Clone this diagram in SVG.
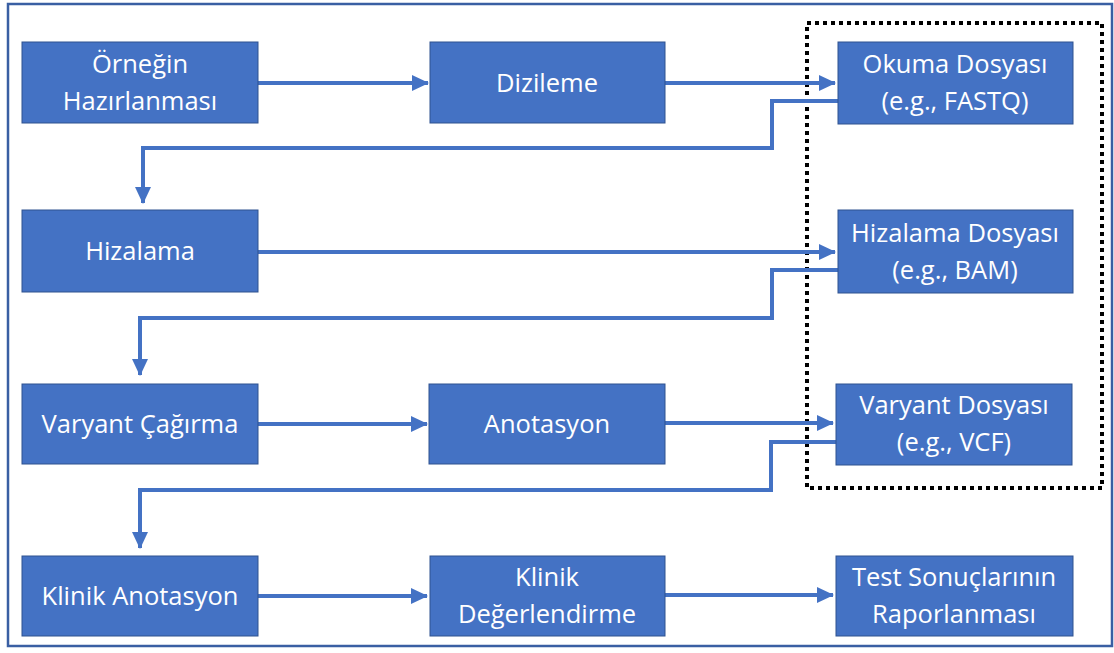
<svg xmlns="http://www.w3.org/2000/svg" width="1114" height="653" viewBox="0 0 1114 653">
<defs>
<style>
.box{fill:#4472C4;stroke:#2F528F;stroke-width:1}
.t{font-family:"Open Sans","Liberation Sans",sans-serif;font-size:25.5px;fill:#ffffff;text-anchor:middle}
.c{fill:none;stroke:#4472C4;stroke-width:4}
.a{marker-end:url(#ah)}
</style>
<marker id="ah" markerUnits="userSpaceOnUse" markerWidth="18" markerHeight="18" refX="16" refY="8" orient="auto">
<path d="M0,0 L17,8 L0,16 z" fill="#4472C4"/>
</marker>
</defs>
<rect x="0" y="0" width="1114" height="653" fill="#ffffff"/>
<rect x="8" y="4" width="1104" height="642" fill="none" stroke="#3A5FA3" stroke-width="2.5"/>
<rect x="807" y="23" width="295" height="465" fill="none" stroke="#000000" stroke-width="4" stroke-dasharray="4 4"/>
<g id="connectors">
<path class="c a" d="M258,83 H428"/>
<path class="c a" d="M665,83 H835"/>
<path class="c a" d="M838,101 H772 V148 H143 V203"/>
<path class="c a" d="M258,252 H835"/>
<path class="c a" d="M838,270 H772 V318 H140 V375"/>
<path class="c a" d="M258,424 H427"/>
<path class="c a" d="M665,423 H833"/>
<path class="c a" d="M836,442 H771 V490 H140 V548"/>
<path class="c a" d="M258,596 H427"/>
<path class="c a" d="M665,595 H833"/>
</g>
<g id="n1"><rect class="box" x="22" y="42" width="236" height="81"/><text class="t" x="140" y="73">Örneğin</text><text class="t" x="140" y="110">Hazırlanması</text></g>
<g id="n2"><rect class="box" x="430" y="42" width="235" height="81"/><text class="t" x="547" y="92">Dizileme</text></g>
<g id="n3"><rect class="box" x="838" y="42" width="235" height="82"/><text class="t" x="955" y="73">Okuma Dosyası</text><text class="t" x="955" y="110">(e.g., FASTQ)</text></g>
<g id="n4"><rect class="box" x="22" y="210" width="236" height="82"/><text class="t" x="140" y="260">Hizalama</text></g>
<g id="n5"><rect class="box" x="838" y="210" width="235" height="83"/><text class="t" x="955" y="242">Hizalama Dosyası</text><text class="t" x="955" y="279">(e.g., BAM)</text></g>
<g id="n6"><rect class="box" x="22" y="384" width="236" height="80"/><text class="t" x="140" y="433">Varyant Çağırma</text></g>
<g id="n7"><rect class="box" x="429" y="384" width="236" height="80"/><text class="t" x="547" y="433">Anotasyon</text></g>
<g id="n8"><rect class="box" x="836" y="384" width="236" height="81"/><text class="t" x="954" y="414">Varyant Dosyası</text><text class="t" x="954" y="451">(e.g., VCF)</text></g>
<g id="n9"><rect class="box" x="22" y="556" width="236" height="80"/><text class="t" x="140" y="605">Klinik Anotasyon</text></g>
<g id="n10"><rect class="box" x="430" y="556" width="235" height="80"/><text class="t" x="547" y="586">Klinik</text><text class="t" x="547" y="623">Değerlendirme</text></g>
<g id="n11"><rect class="box" x="836" y="556" width="237" height="80"/><text class="t" x="954" y="586">Test Sonuçlarının</text><text class="t" x="954" y="623">Raporlanması</text></g>
</svg>
